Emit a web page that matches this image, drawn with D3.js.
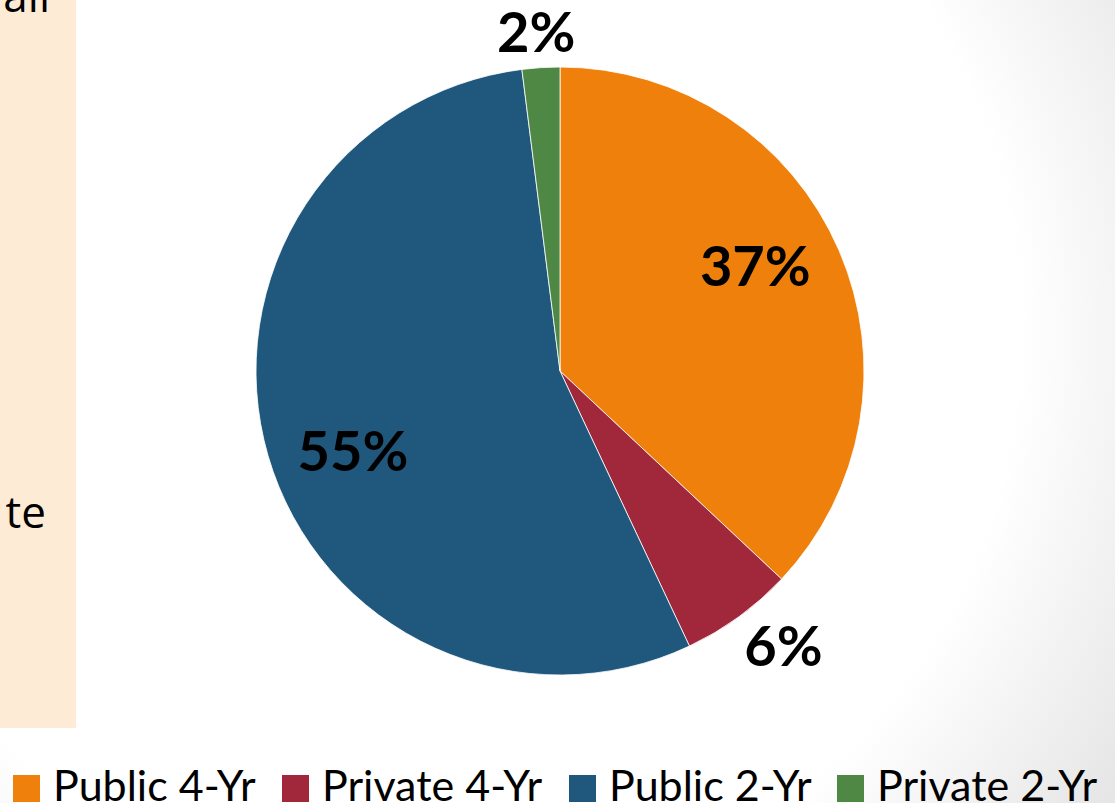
<!DOCTYPE html>
<html>
<head>
<meta charset="utf-8">
<script src="https://cdn.jsdelivr.net/npm/d3@7"></script>
<style>
  html, body { margin: 0; padding: 0; background: #fff; }
  svg { display: block; }
</style>
</head>
<body>
<div id="chart"></div>
<script>
var categories = ["Public 4-Yr", "Private 4-Yr", "Public 2-Yr", "Private 2-Yr"];
var shares = [37, 6, 55, 2];
var colors = ["#EF800B", "#A0283A", "#1F587C", "#4F8845"];
var sideNotes = ["ail", "te"];

var width = 1115, height = 803;

// legend item left edges as laid out on the slide
var legendX = [13, 282, 569, 837];

var svg = d3.select("#chart")
  .append("svg")
  .attr("width", width)
  .attr("height", height);

// slide background with a soft shade in the lower right
var defs = svg.append("defs");
var grad = defs.append("radialGradient")
  .attr("id", "bg")
  .attr("gradientUnits", "userSpaceOnUse")
  .attr("cx", 430).attr("cy", 330).attr("r", 820);
grad.append("stop").attr("offset", "0.72").attr("stop-color", "#ffffff");
grad.append("stop").attr("offset", "1").attr("stop-color", "#e6e6e6");

svg.append("rect")
  .attr("width", width)
  .attr("height", height)
  .attr("fill", "url(#bg)");

// peach text box cut off on the left
svg.append("rect")
  .attr("x", 0).attr("y", 0)
  .attr("width", 76).attr("height", 728)
  .attr("fill", "#FEEBD5");

svg.selectAll(".note")
  .data(sideNotes)
  .enter().append("text")
  .attr("class", "note")
  .attr("x", (d, i) => i == 0 ? 50 : 46)
  .attr("y", (d, i) => i == 0 ? 12 : 528)
  .attr("text-anchor", "end")
  .attr("font-family", "'Open Sans', sans-serif")
  .attr("font-size", "44px")
  .attr("fill", "#000")
  .text(d => d);

// pie
var cx = 560, cy = 371, radius = 304;

var pie = d3.pie().sort(null).value(d => d);
var arcs = pie(shares);

var arc = d3.arc().innerRadius(0).outerRadius(radius);
var outLabel = d3.arc().innerRadius(340).outerRadius(340);

var g = svg.append("g").attr("transform", "translate(" + cx + "," + cy + ")");

g.selectAll("path")
  .data(arcs)
  .enter().append("path")
  .attr("d", arc)
  .attr("fill", (d, i) => colors[i])
  .attr("stroke", "#ffffff")
  .attr("stroke-width", 0.8);

// data labels: big slices inside (best fit sits a bit before the middle), small ones outside
g.selectAll(".label")
  .data(arcs)
  .enter().append("text")
  .attr("class", "label")
  .attr("transform", function(d) {
    var mid = (d.startAngle + d.endAngle) / 2;
    var p;
    if (d.data >= 10) {
      var a = mid - 0.087;
      p = [Math.sin(a) * 222, -Math.cos(a) * 222];
    } else {
      p = outLabel.centroid(d);
      p[0] += Math.sin(mid) * 40;
    }
    return "translate(" + p[0] + "," + p[1] + ")";
  })
  .attr("dy", "0.36em")
  .attr("text-anchor", "middle")
  .attr("font-family", "Lato, sans-serif")
  .attr("font-weight", "bold")
  .attr("font-size", "56px")
  .attr("fill", "#000")
  .text(d => d.data + "%");

// legend
var legend = svg.selectAll(".legend")
  .data(categories)
  .enter().append("g")
  .attr("class", "legend")
  .attr("transform", (d, i) => "translate(" + legendX[i] + ",775)");

legend.append("rect")
  .attr("width", 27)
  .attr("height", 27)
  .attr("fill", (d, i) => colors[i]);

legend.append("text")
  .attr("x", 40)
  .attr("y", 26)
  .attr("font-family", "Lato, sans-serif")
  .attr("font-size", "43px")
  .attr("fill", "#000")
  .text(d => d);
</script>
</body>
</html>
